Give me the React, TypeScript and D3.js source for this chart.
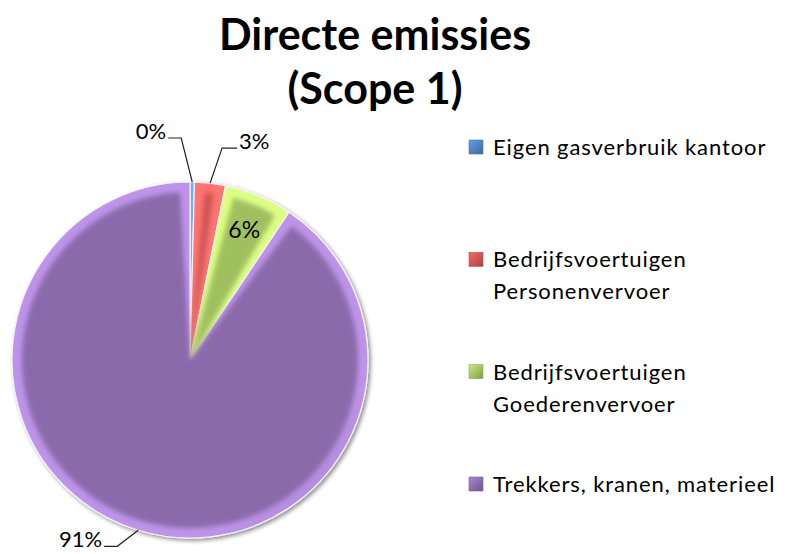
import * as d3 from "d3";

const title = ["Directe emissies", "(Scope 1)"];
const categories = [
  "Eigen gasverbruik kantoor",
  "Bedrijfsvoertuigen Personenvervoer",
  "Bedrijfsvoertuigen Goederenvervoer",
  "Trekkers, kranen, materieel",
];
const legendLines = [
  ["Eigen gasverbruik kantoor"],
  ["Bedrijfsvoertuigen", "Personenvervoer"],
  ["Bedrijfsvoertuigen", "Goederenvervoer"],
  ["Trekkers, kranen, materieel"],
];
const values = [0.4, 2.8, 6.2, 90.6];
const colors = ["#4F81BD", "#CC5552", "#A0C060", "#8A6BAA"];

// label placement: outside labels get a leader (elbow + end, relative to rim point)
const labelLayout = [
  { inside: false, elbow: [-11, -44], end: [-24, -44], anchor: "end" },
  { inside: false, elbow: [12, -35], end: [27, -35], anchor: "start" },
  { inside: true, elbow: [0, 0], end: [0, 0], anchor: "middle" },
  { inside: false, elbow: [-21, 16], end: [-34, 16], anchor: "end" },
];

const W = 791;
const H = 554;
const cx = 190;
const cy = 360;
const r = 178;
const font = "Lato, 'Open Sans', sans-serif";

function App() {
  const total = d3.sum(values);
  const fmt = d3.format(".0%");
  const pie = d3
    .pie<number>()
    .sort(null)
    .value((d) => d);
  const arcs = pie(values);

  const outer: any = d3.arc().innerRadius(0).outerRadius(r);
  const face: any = d3
    .arc()
    .innerRadius(0)
    .outerRadius(r - 10)
    .padRadius(100)
    .padAngle(0.2);

  const rimPoint = (a: number) => [cx + r * Math.sin(a), cy - r * Math.cos(a)];

  const legendY = d3
    .scaleLinear()
    .domain([0, categories.length - 1])
    .range([140, 477]);

  return (
    <svg
      width={W}
      height={H}
      style={{ position: "absolute", left: 0, top: 0, background: "#fff" }}
      fontFamily={font}
    >
      <defs>
        <filter id="pieShadow" x="-10%" y="-10%" width="125%" height="125%">
          <feDropShadow dx="2" dy="2" stdDeviation="2" floodColor="#000" floodOpacity="0.45" />
        </filter>
        <filter id="soft" x="-10%" y="-10%" width="120%" height="120%">
          <feGaussianBlur stdDeviation="2.6" />
        </filter>
        {colors.map((c, i) => (
          <linearGradient
            key={i}
            id={`rim-${i}`}
            gradientUnits="userSpaceOnUse"
            x1={cx - r}
            y1={cy - r}
            x2={cx + r}
            y2={cy + r}
          >
            <stop offset="0%" stopColor={d3.color(c)!.brighter(0.9).formatHex()} />
            <stop offset="50%" stopColor={c} />
            <stop offset="100%" stopColor={d3.color(c)!.darker(0.8).formatHex()} />
          </linearGradient>
        ))}
        {colors.map((c, i) => (
          <linearGradient key={i} id={`mk-${i}`} x1="0" y1="0" x2="1" y2="1">
            <stop offset="0%" stopColor={d3.color(c)!.brighter(0.6).formatHex()} />
            <stop offset="100%" stopColor={d3.color(c)!.darker(0.6).formatHex()} />
          </linearGradient>
        ))}
      </defs>

      {title.map((t, i) => (
        <text
          key={i}
          x={375}
          y={50 + i * 54}
          textAnchor="middle"
          fontWeight="bold"
          fontSize={43}
          fill="#000"
        >
          {t}
        </text>
      ))}

      <g filter="url(#pieShadow)">
        {arcs.map((a, i) => (
          <path
            key={i}
            transform={`translate(${cx},${cy})`}
            d={outer(a)}
            fill={`url(#rim-${i})`}
            stroke="#f4f4f4"
            strokeWidth={1.2}
          />
        ))}
      </g>
      <g filter="url(#soft)">
        {arcs.map((a, i) => (
          <path key={i} transform={`translate(${cx},${cy})`} d={face(a)} fill={colors[i]} />
        ))}
      </g>

      {arcs.map((a, i) => {
        const mid = (a.startAngle + a.endAngle) / 2;
        const lay = labelLayout[i];
        const label = fmt(a.value / total);
        if (lay.inside) {
          const p = [cx + 0.79 * r * Math.sin(mid), cy - 0.79 * r * Math.cos(mid)];
          return (
            <text key={i} x={p[0]} y={p[1] + 8} textAnchor="middle" fontSize={23} fill="#000">
              {label}
            </text>
          );
        }
        const [px, py] = rimPoint(mid);
        const ex = px + lay.elbow[0];
        const ey = py + lay.elbow[1];
        const tx = px + lay.end[0];
        const ty = py + lay.end[1];
        const line = d3.line()([
          [px, py],
          [ex, ey],
          [tx, ty],
        ]);
        return (
          <g key={i}>
            <path d={line!} fill="none" stroke="#222" strokeWidth={1.2} />
            <text
              x={tx + (lay.anchor === "end" ? -2 : 2)}
              y={ty + 1}
              textAnchor={lay.anchor}
              fontSize={22}
              fill="#000"
            >
              {label}
            </text>
          </g>
        );
      })}

      {categories.map((c, i) => {
        const top = legendY(i);
        return (
          <g key={c}>
            <rect
              x={469}
              y={top}
              width={14}
              height={14}
              fill={`url(#mk-${i})`}
              stroke={d3.color(colors[i])!.darker(0.3).formatHex()}
              strokeWidth={0.6}
            />
            {legendLines[i].map((l, j) => (
              <text
                key={j}
                x={493}
                y={top + 15 + j * 32}
                fontSize={22}
                letterSpacing={0.9}
                fill="#000"
              >
                {l}
              </text>
            ))}
          </g>
        );
      })}
    </svg>
  );
}

export default App;
